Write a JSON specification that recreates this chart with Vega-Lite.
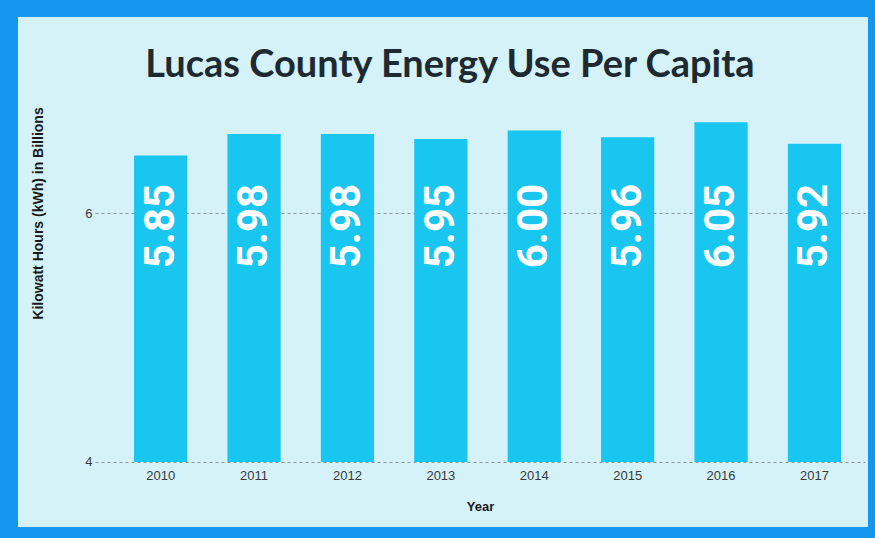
{
  "$schema": "https://vega.github.io/schema/vega-lite/v6.json",
  "width": 850,
  "height": 510,
  "autosize": {"type": "none"},
  "padding": {"left": 18, "top": 17, "right": 7, "bottom": 11},
  "background": "#1597ef",
  "title": {
    "text": "Lucas County Energy Use Per Capita",
    "font": "Lato",
    "fontSize": 38,
    "fontWeight": "bold",
    "color": "#1e2a32",
    "anchor": "middle",
    "frame": "group",
    "offset": -68,
    "dx": 7
  },
  "data": {
    "values": [
      {"year": "2010", "kwh": 5.85},
      {"year": "2011", "kwh": 5.98},
      {"year": "2012", "kwh": 5.98},
      {"year": "2013", "kwh": 5.95},
      {"year": "2014", "kwh": 6.00},
      {"year": "2015", "kwh": 5.96},
      {"year": "2016", "kwh": 6.05},
      {"year": "2017", "kwh": 5.92}
    ]
  },
  "encoding": {
    "x": {
      "field": "year",
      "type": "ordinal",
      "scale": {"range": [77, 847], "paddingInner": 0.43, "paddingOuter": 0.337, "align": 0.62},
      "axis": {
        "title": "Year",
        "offset": -65,
        "domain": false,
        "ticks": false,
        "labelAngle": 0,
        "labelPadding": 7,
        "labelFont": "Liberation Sans",
        "labelFontSize": 13,
        "labelColor": "#3a3a3a",
        "titleFont": "Liberation Sans",
        "titleFontSize": 13,
        "titleFontWeight": "bold",
        "titleColor": "#1a1a1a",
        "titleY": 38,
        "titleBaseline": "top"
      }
    }
  },
  "layer": [
    {
      "mark": {"type": "bar", "color": "#19c6f0"},
      "encoding": {
        "y": {
          "field": "kwh",
          "type": "quantitative",
          "scale": {"domain": [3.6077, 6.6856], "nice": false, "zero": false},
          "axis": {
            "title": "Kilowatt Hours (kWh) in Billions",
            "values": [4, 5.5],
            "labelExpr": "datum.value < 5 ? '4' : '6'",
            "offset": -80,
            "domain": false,
            "ticks": false,
            "labelPadding": 6,
            "labelFont": "Liberation Sans",
            "labelFontSize": 13,
            "labelColor": "#3a3a3a",
            "grid": true,
            "gridColor": "#8a979c",
            "gridDash": [3, 3],
            "gridWidth": 1,
            "titleFont": "Liberation Sans",
            "titleFontSize": 14,
            "titleFontWeight": "bold",
            "titleColor": "#1a1a1a",
            "titleX": -60,
            "titleY": 196,
            "titleAngle": -90,
            "titleAlign": "center",
            "titleBaseline": "middle"
          }
        },
        "y2": {"datum": 4}
      }
    },
    {
      "mark": {
        "type": "text",
        "angle": 270,
        "font": "Roboto",
        "fontWeight": "bold",
        "fontSize": 42,
        "color": "white",
        "align": "center",
        "baseline": "middle"
      },
      "encoding": {
        "y": {"datum": 5.424, "type": "quantitative"},
        "text": {"field": "kwh", "type": "quantitative", "format": ".2f"}
      }
    }
  ],
  "config": {"view": {"fill": "#d4f2f8", "stroke": null}}
}
